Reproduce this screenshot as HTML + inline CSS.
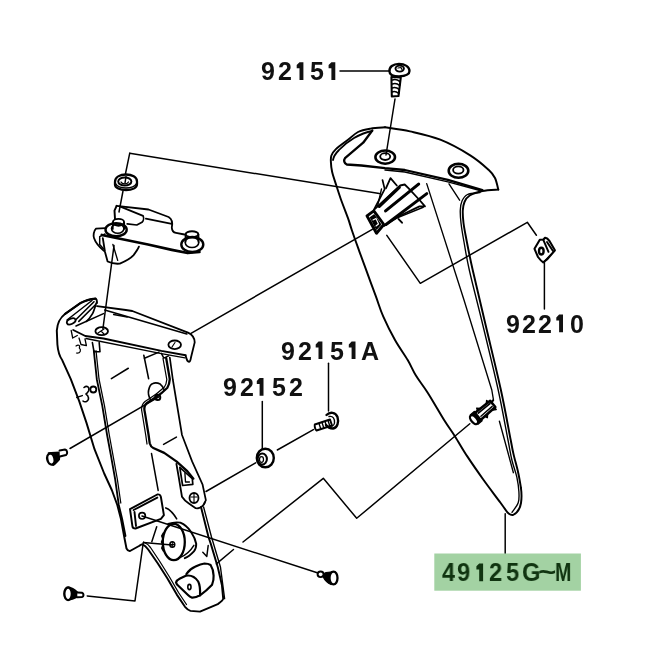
<!DOCTYPE html>
<html><head><meta charset="utf-8">
<style>
html,body{margin:0;padding:0;background:#fff;}
body{width:660px;height:660px;overflow:hidden;position:relative;}
svg{position:absolute;left:0;top:0;}
.lbl{position:absolute;-webkit-font-smoothing:antialiased;will-change:transform;font-family:"Liberation Sans",sans-serif;font-weight:bold;color:#111;white-space:nowrap;line-height:1;}
</style></head><body>
<svg width="660" height="660" viewBox="0 0 660 660">
<g fill="none" stroke="#000" stroke-linecap="round" stroke-linejoin="round">
<!-- ===== leader lines ===== -->
<g stroke-width="1.48">
<!-- 92151 label leader -->
<path d="M340,70.9 L389,70.9"/>
<!-- screw to hole -->
<path d="M395,99 L386,155"/>
<!-- top leader washer -> cowl clip -->
<path d="M129.7,153.3 L379.3,193.6"/>
<path d="M129.7,153.3 L125,176"/>
<path d="M123,191 L119,212"/>
<path d="M114,245.6 L102.9,328.8"/>
<!-- plate to clip -->
<path d="M191,333.4 L372.3,229.3"/>
<!-- nut leader -->
<path d="M386.8,235.4 L420.3,283.3 L527.3,222.3 L536.4,235.2"/>
<path d="M544.4,262 L544.4,309"/>
<!-- 92151A leader -->
<path d="M328.5,363.2 L328.5,411"/>
<!-- 92152 leader -->
<path d="M262.3,401.4 L262.3,448.5"/>
<path d="M277.3,450 L313.4,429.6"/>
<path d="M255.6,462.9 L206,491.5"/>
<!-- rivet1 leader -->
<path d="M70,448.5 L158.9,396.8"/>
<!-- rivet2 leader -->
<path d="M87.2,595.9 L135,600.9 L143.3,542.4 L172,545"/>
<!-- damper to rivet3 -->
<path d="M142,516 L318,573"/>
<!-- zigzag -->
<path d="M469.8,423.8 L356.7,518.3 L323.3,478.3 L243,542"/>
<path d="M233.5,549.5 L216.4,563.9"/>
<!-- cowl tip to label -->
<path d="M505.2,513.7 L505.2,553.5"/>
</g>

<!-- ===== Cowl 49125 ===== -->
<g stroke-width="1.94">
<path d="M385.0,127.3 C382.6,127.5 375.0,127.8 370.5,128.6 C366.0,129.4 361.8,130.1 358.0,132.0 C354.2,133.9 351.4,137.2 347.7,140.0 C344.0,142.8 338.6,146.5 335.9,149.1 C333.2,151.7 332.2,153.3 331.4,155.5 C330.6,157.7 330.8,159.4 330.9,162.1 C331.0,164.8 331.3,168.2 332.1,171.8 C332.9,175.4 334.4,179.5 335.8,183.9 C337.2,188.3 338.6,192.8 340.6,198.5 C342.6,204.2 346.0,212.7 347.9,217.9 C349.8,223.2 350.1,224.9 351.8,230.0 C353.5,235.1 355.9,241.8 358.2,248.2 C360.5,254.6 362.6,260.2 365.5,268.2 C368.4,276.2 372.9,288.4 375.9,296.4 C378.8,304.4 380.0,309.1 383.2,316.4 C386.4,323.7 390.9,332.7 395.0,340.0 C399.1,347.3 404.2,354.1 407.7,360.0 C411.2,365.9 412.6,370.1 415.9,375.5 C419.2,380.9 423.0,385.3 427.7,392.7 C432.4,400.1 439.6,412.7 444.1,420.0 C448.7,427.3 451.1,430.3 455.0,436.4 C458.9,442.5 462.5,449.1 467.3,456.4 C472.1,463.7 478.1,472.3 483.6,480.0 C489.1,487.7 496.6,497.4 500.5,502.8 C504.4,508.2 506.2,510.7 507.3,512.3 C509,514 511,515.5 513,515 C517,513 520,509 521,503 C521.8,498 521.5,492 520.9,487.7" />
<path d="M520.9,487.7 C520.5,485.2 519.5,478.4 518.2,472.7 C517.0,467.0 514.6,459.1 513.4,453.6 C512.1,448.2 512.8,450.6 510.7,440.0 C508.6,429.4 505.1,409.2 500.9,390.0 C496.7,370.8 490.2,344.5 485.5,324.5 C480.8,304.5 475.9,284.1 472.7,270.0 C469.5,255.9 468.0,247.8 466.5,240.0 C465.0,232.2 464.1,227.9 463.5,223.0 C462.9,218.1 462.6,213.8 462.8,210.3 C463.0,206.8 463.4,204.5 464.5,202.0 C465.6,199.5 466.7,197.3 469.7,195.5 C472.7,193.7 477.6,192.0 482.4,191.0 C487.2,190.0 495.6,189.8 498.3,189.6" />
<path d="M498.3,189.6 C497.8,187.7 496.6,181.3 495.0,178.0 C493.4,174.7 492.9,173.7 488.8,170.0 C484.7,166.3 478.7,160.7 470.6,155.6 C462.5,150.5 450.4,143.7 440.3,139.7 C430.2,135.7 419.2,133.5 410.0,131.4 C400.8,129.3 389.2,128.0 385.0,127.3" />
<path d="M372.3,131 C360,133 347,141.5 339,150 C335,154 333.5,157 333,160" stroke-width="1.82"/>
<path d="M372.3,130.5 L363.2,142.7 L345,158.2 C343.5,160.5 344,163 346.8,164.5 L361.4,165.5 L385,168.2 L404.8,170 L447.9,179.8 L482.4,190.1" stroke-width="2.28"/>
<path d="M385,170 L404.8,172 L447.9,181.8 L480,190.5" stroke-width="1.36"/>
<path d="M512.0,512.3 C513.0,510.7 517.1,506.2 518.2,502.8 C519.4,499.4 519.1,496.1 518.9,491.8 C518.7,487.5 517.9,482.0 516.8,476.8 C515.6,471.6 513.5,466.6 512.0,460.5 C510.5,454.4 510.3,451.8 508.0,440.0 C505.7,428.2 502.4,409.2 498.2,390.0 C494.0,370.8 487.5,344.5 482.7,324.5 C477.9,304.5 472.4,283.8 469.3,270.0 C466.2,256.2 465.4,249.8 464.0,242.0 C462.6,234.2 461.6,228.3 461.0,223.0 C460.4,217.7 460.1,213.7 460.3,210.0 C460.5,206.3 460.8,203.6 462.0,201.0 C463.2,198.4 464.5,195.9 467.5,194.5 C470.5,193.1 477.9,192.8 480.0,192.5" stroke-width="1.36"/>
<path d="M499.4,421.2 L513.4,472.7" stroke-width="1.36"/>
<path d="M426.7,183.6 L464,300 L491.8,390 L493.5,400" stroke-width="1.36"/>
<path d="M449,183.8 L459.6,200.2" stroke-width="1.36"/>
<ellipse cx="385.2" cy="157.1" rx="9.8" ry="6.6" stroke-width="2.55"/>
<ellipse cx="385.2" cy="156.6" rx="5" ry="3.4" stroke-width="1.82"/>
<ellipse cx="458.5" cy="170.8" rx="9.8" ry="7" stroke-width="2.55"/>
<ellipse cx="458.3" cy="170" rx="5.2" ry="3.6" stroke-width="1.82"/>
</g>

<!-- cowl clip -->
<g stroke-width="1.82">
<path d="M367,215.9 L373.8,210.9 L383.8,224.5 L376.5,233.2 Z" stroke-width="2.95"/>
<path d="M370.5,217.5 L374,215 L380.5,224.5 L376.5,229 Z" fill="#000" stroke-width="1.48"/>
<path d="M373,220 L376,218.5 L378.5,224 L376,226" stroke="#fff" stroke-width="1.14"/>
<path d="M374.7,209.1 L400.2,185.5 L404.7,184.5 L408.4,188.2 L419.5,200 L425,206.4 L419.5,206.4 L400.5,215.5 L384,226" stroke-width="1.82"/>
<path d="M379.3,206.4 L399.3,187.3" stroke-width="3.15"/>
<path d="M385.6,210.9 L418.6,184.1" stroke-width="3.15"/>
<path d="M386,224.5 L426.8,193.6" stroke-width="2.95"/>
<path d="M394.1,219.1 L423.2,207.3" stroke-width="1.48"/>
<path d="M386,188.2 L390.5,178.2 L396.8,185.5" stroke-width="1.82"/>
<path d="M373.8,210 L384.7,189.1 L382.5,180" stroke-width="1.71"/>
<path d="M377.5,206.4 L381.5,189" stroke-width="1.36"/>
<path d="M398.6,219.1 L402,222.7" stroke-width="1.94"/>
</g>

<!-- lower cowl clip -->
<g transform="translate(473.6,420) rotate(-40)">
<path d="M5,-4.5 L25,-4 L25,4 L5,4.5 Z" fill="#fff" stroke-width="2.55"/>
<path d="M8,1.8 L23,1.5" stroke-width="1.36"/>
<path d="M8,-2.2 L23,-2" stroke-width="1.71"/>
<path d="M1,-6 L6,-6 L6,6 L1,6 Z" fill="#000" stroke-width="1.48"/>
<ellipse cx="0.5" cy="0" rx="2.8" ry="5.3" fill="#fff" stroke-width="2.28"/>
<path d="M9,-4.5 L10,-7 L12.5,-4.5 M20,-4 L22.5,-6.5 L23,-4 M11,4.5 L12,7 L14.5,4.5 M20,4 L24,6.5 L24,4" fill="#000" stroke-width="1.48"/>
<path d="M25,-2 L27.5,-2.5" stroke-width="2.17"/>
</g>

<!-- screw 92151 -->
<g>
<path d="M389.5,71.5 C389,67 393,64 399,63.8 C405,63.8 409.5,67 409.5,71 C409.5,74 406,76 399,76.3 C393,76.3 389.5,75 389.5,71.5 Z" stroke-width="2.35" fill="#fff"/>
<ellipse cx="399.7" cy="68.6" rx="4.2" ry="3" stroke-width="1.94"/>
<path d="M398,68 L401,67.5 L402,69.5" stroke-width="1.25"/>
<path d="M391.4,77 L400.8,77.5 L398.5,96 L391.8,96.5 Z" stroke-width="2.05"/>
<path d="M392.5,80 C395,79 398,80 400,81.5 M392.3,84 C395,83 398,84 399.6,85.5 M392.1,88 C395,87 397.5,88 399.2,89.5 M392,92 C394.5,91 397,92 398.8,93.5" stroke-width="1.59"/>
</g>

<!-- nut 92210 -->
<g stroke-width="2.05">
<path d="M534.5,248.8 L539.8,239.7 L543.5,239.5 L545,237.8 L547.2,238.5 L549.5,241 L554.9,250.3 L547,259.5 L543.2,262.4 C541,261 539.5,259 538,257 Z"/>
<ellipse cx="541.3" cy="251.1" rx="2.3" ry="3.4" stroke-width="2.40"/>
<path d="M543.2,239.7 L548.5,251.8 M547,242 L553,251" stroke-width="1.94"/>
<path d="M543.9,261.7 L554.5,251" stroke-width="1.48"/>
</g>

<!-- 92151A screw -->
<g>
<path d="M326.5,415 C330,411.5 335.5,412 337.5,417 C339,422 337.5,428 333,428.5 C330,428.5 327.5,427 326,425" stroke-width="2.40"/>
<path d="M329,416.5 C333,415.5 335,419 334.5,423 C334,426 331.5,426.5 329.5,425.5" stroke-width="1.36"/>
<path d="M314.8,424.5 L330,419.5 L332,425.5 L316.5,430.5 C315,429.5 314.5,426 314.8,424.5 Z" stroke-width="1.94"/>
<path d="M319,423.5 L320.8,429 M322,422.5 L323.8,428 M325,421.5 L326.8,427 M328,420.5 L329.8,426" stroke-width="1.36"/>
</g>

<!-- 92152 washer -->
<g>
<ellipse cx="265.3" cy="458" rx="8.5" ry="9.3" stroke-width="2.40"/>
<ellipse cx="262.3" cy="459" rx="4.6" ry="5.6" stroke-width="2.05"/>
<ellipse cx="261.5" cy="459.5" rx="2" ry="2.8" stroke-width="1.25"/>
</g>

<!-- top washer -->
<g>
<path d="M115,182 C115,177 120,174.5 126,174.5 C132,174.5 137,177 137,181.5 L137,184 C137,188 132,190 126,190 C120,190 115,188 115,184.5 Z" stroke-width="2.28" fill="#fff"/>
<path d="M115.5,183.5 C117,186.5 121,188 126,188 C131,188 135,186.5 136.5,183.5" stroke-width="1.48"/>
<ellipse cx="124.8" cy="181.5" rx="6.6" ry="4" stroke-width="1.94"/>
<path d="M126,176.5 L125,183" stroke-width="1.48"/>
<path d="M121,182 C122,184.5 127,184.5 128.5,182" stroke-width="1.25"/>
</g>

<!-- small bracket with studs -->
<g stroke-width="1.71">
<!-- plate lower thick edge -->
<path d="M101.8,235 L148,244.5 L171.8,249.8 L187.7,253 L199.4,252" stroke-width="2.75"/>
<!-- upper profile -->
<path d="M116.6,205.8 L148.5,209.5 L168.6,217 C172,219 173,222 171.8,227.6 C172,231 174,232.5 176,232.9 L184.5,234.5" stroke-width="1.82"/>
<path d="M145.8,218.6 L171.8,223.9" stroke-width="1.59"/>
<!-- inner tab -->
<path d="M116.6,205.8 L114.5,210.6 L115,219" stroke-width="1.94"/>
<path d="M119.8,206.4 L143.1,215.9 C144,218 143.5,221 142,222.3 L136.8,225 L127.2,223.9" stroke-width="1.71"/>
<!-- left hook -->
<path d="M105.5,228.1 L96,228.6 C93.5,231 93.2,236 94,238 C95,241 98,246 103.9,250.9" stroke-width="1.82"/>
<path d="M105,234 L99.7,236.6 L99.7,244.5 L103.4,248.8" stroke-width="1.48"/>
<!-- lower tab -->
<path d="M102.8,238.2 L105,252 L107.6,261.5 C112,263.5 116,264 119.8,263.6 C126,261 131,258 133.6,255.1 C136,252 138,249 138.9,246.7" stroke-width="1.82"/>
<path d="M112.9,244.5 L117.7,260.4" stroke-width="1.36"/>
<!-- studs -->
<ellipse cx="116.1" cy="229.7" rx="10.6" ry="6.6" stroke-width="2.40"/>
<ellipse cx="117.7" cy="228.6" rx="6.2" ry="4.6" stroke-width="1.59"/>
<path d="M112.8,222.5 L112.8,229 M124.2,222.5 L124.2,229" stroke-width="1.71"/>
<ellipse cx="118.5" cy="222.3" rx="5.6" ry="3.4" stroke-width="1.94"/>
<ellipse cx="192.3" cy="244.5" rx="11" ry="7.5" stroke-width="2.40"/>
<ellipse cx="192" cy="242.5" rx="6.8" ry="5" stroke-width="1.59"/>
<path d="M185.5,234.5 L185.5,242 M198.5,234.5 L198.5,242" stroke-width="1.71"/>
<ellipse cx="192" cy="234.3" rx="6.3" ry="3" stroke-width="1.94"/>
</g>

<!-- ===== main bracket ===== -->
<g stroke-width="1.71">
<!-- plate top edge + right end -->
<path d="M97,306.2 L125.8,310 L132.3,311 L188,332.7 C192,334.5 194.5,337 194.7,342.4 L191.1,357 C190.6,360 189.8,361.8 189,361.8 C187.5,361.5 186.8,360 186.5,358.5 L185.6,355.5" stroke-width="1.82"/>
<!-- plate front edge (double) -->
<path d="M73.2,330 L85.3,336 L103.5,338.5 L161.4,350.9 L185.6,355.2" stroke-width="1.94"/>
<path d="M86,338.5 L161.4,353.6 L185,357.8" stroke-width="1.36"/>
<!-- bend line -->
<path d="M76,326 L103.5,313.6 M104.7,310 L186.8,334" stroke-width="1.59"/>
<path d="M113.6,314.5 L127.3,317" stroke-width="1.36"/>
<ellipse cx="101.7" cy="331.2" rx="6.3" ry="4" stroke-width="1.82"/>
<path d="M98,333 L104,329 M101,331 L104,334" stroke-width="1.14"/>
<ellipse cx="174.7" cy="344.8" rx="6.3" ry="4.3" stroke-width="1.82"/>
<path d="M172,347 L175,342.5" stroke-width="1.14"/>
<!-- curl -->
<path d="M75.8,319.8 L94,301.7 M78.8,321.4 L95.5,304.7" stroke-width="1.59"/>
<path d="M96.2,303.2 C95,307 94,311 92.4,313.8 C90.5,317 88.5,319.5 86.4,321.4" stroke-width="1.71"/>
<ellipse cx="71.2" cy="321.4" rx="4.6" ry="2.6" transform="rotate(-25 71.2 321.4)" stroke-width="1.82"/>
<path d="M67,320 L92,300.5" stroke-width="1.48"/>
<path d="M65.2,313.8 L80.3,303.2 C85,300.5 90,299 95.5,298.6" stroke-width="2.1"/>
<!-- outer left edge, bottom, right edge -->
<path d="M97,303 C97,300 96.5,298.8 95.5,298.6 C90,299 85,300.5 80.3,303.2 L65.2,313.8 C60,318 57.5,322 56.8,330.5 L57.4,344.5 C58,352 60,357 62.3,360.3 L70.8,379.2 L79.2,401.1 L86.5,422.9 L94.5,449.2 L104.2,473.5 L111.8,490 L117.3,505 L120.9,518.8 L124.5,538.2 L126.5,548.5 C127.5,550.5 128.5,551.2 130,551 L139,546 C140.5,545 141.5,544.3 142.5,544.3 C144.5,545 146.5,547 148.2,549.5 L157.7,563.2 L167.3,578.2 L176.8,594.6 L185,606.8 C187,609 189,610.5 190.5,610.9 L200,611.6 L217.8,604.1 C221,602 223,600 223.2,598.7 L221.9,585 L217.8,567.3 L210.9,544.1 L208.5,537 L201,507" stroke-width="1.94"/>
<path d="M143.5,542 C146,543 148.5,545 150.5,547.5 L159.5,561 L169.5,577 L178.5,592.5 L186.5,604.5" stroke-width="1.25"/>
<path d="M203.6,507 L211.5,537 L220.5,567.3 L224.6,598.7" stroke-width="1.36"/>
<!-- inner left line (double) -->
<path d="M93.8,350.6 L96.8,379.2 L102.3,405.9 L107.1,435 L110.9,455.3 L115.2,479.5 L118.8,505 L122.1,518.8 L125.5,536" stroke-width="1.82"/>
<path d="M96,350.6 L99,379 L104.5,405.9 L109.3,435 L113,455.3 L117.4,479.5 L120.8,503" stroke-width="1.25"/>
<!-- right strand B -->
<path d="M169.8,357.5 L172.9,380 L182,435 L192.1,461.4 L202.5,484.3 L205.9,500.2 L204.2,503.6" stroke-width="1.71"/>
<!-- post wire strand -->
<path d="M166.2,358.2 L169.8,379.2 C169.5,383 168.5,386 167.4,387.7 C163,392 160,394.5 156.5,396.8 L147,403 C144.5,405 144.2,408 144.4,410 L145,413.2 L148.6,435 L149.7,443.2 C150.5,446 151.5,447.2 153.3,448 L164.2,452.9 L176.4,461.4 L187.3,471.1 L193.4,478.6" stroke-width="2.28"/>
<path d="M163,358.5 L166.8,379.5 C166.5,383 165.5,385.5 164.4,387 C160,391 157,393.5 154,395.5 L145,401.5 C142,404 141.5,407 141.6,410 L142.2,413.5 L145.8,435.5 L147,444" stroke-width="1.25"/>
<!-- loop + grommet -->
<path d="M150.5,399.8 C148.5,396 148,393 148.6,390.2 C149.5,386 151,384 152.9,383.5 C155,382.5 158,383 160.2,384.1 C162,385.5 163.5,388 164.4,390.2" stroke-width="1.71"/>
<circle cx="157.7" cy="397.4" r="2.6" stroke-width="1.94"/>
<!-- slot -->
<path d="M176.4,463.9 L178.6,476.4 L182,496.8 C184,500 186.5,502 188.9,503.6 L195.7,508.2 C198,508.5 200,508 201.4,507 C203.5,505.5 204.5,504 204.8,502.5" stroke-width="1.82"/>
<path d="M179.8,467.3 L182.6,485.5 L192.8,484.3 L192.3,478.6 Z" stroke-width="1.71"/>
<path d="M184.9,473 L185.5,482 L189.4,482" stroke-width="1.36"/>
<ellipse cx="194" cy="498" rx="4.5" ry="5" stroke-width="1.82"/>
<path d="M191,497 L197,497 M194,494 L194,502" stroke-width="1.14"/>
<!-- misc under plate -->
<path d="M143.8,355.2 L148.6,378.6" stroke-width="1.59"/>
<path d="M144.4,358.2 L159,352.1" stroke-width="1.48"/>
<path d="M161.4,353.3 L163.8,358.2 L168.6,355.8" stroke-width="1.48"/>
<path d="M92.4,342.6 L94,351.7 L100,351.7 L99.2,342.6" stroke-width="1.59"/>
<path d="M71.2,330.5 L72.7,338 L77.3,335.5 M79,338 L81,344.5 L86.4,345.6 L85,339" stroke-width="1.3"/>
<path d="M76,346 C78,344.5 80.5,345 79.3,348 C81.5,350 80.5,353.5 76.5,353" stroke-width="1.2"/>
<path d="M111.4,378.6 L128.3,368.3" stroke-width="1.59"/>
<path d="M163.6,444.4 L176.4,437.1" stroke-width="1.59"/>
<path d="M151.5,453.5 L158.2,490.5" stroke-width="1.48"/>
<path d="M156.7,526.7 L151.8,541.8" stroke-width="1.48"/>
<path d="M76.8,397.4 L82.3,395.6" stroke-width="1.48"/>
<path d="M84,387.5 C87,385 90,387 88.5,391 C87.5,393 86,394 86,394 C89,396 89.5,400 86.5,401.5 C85,402 83.5,401.5 83,401" stroke-width="1.59"/>
<circle cx="93.3" cy="389.5" r="3" stroke-width="1.82"/>
<!-- pad -->
<path d="M130,509.1 L157.3,494.5 C159,494 160.5,495 160.9,497 L163.9,515.2 L160.9,518.8 L135.5,528.5 C133.5,528.5 132.5,527.5 132.4,526.1 Z" stroke-width="1.94"/>
<path d="M133.6,510 L157.3,497.6 M134.5,512 L136,526" stroke-width="1.94"/>
<circle cx="142.1" cy="515.8" r="3.2" stroke-width="1.71"/>
<!-- damper 1 -->
<path d="M168.2,524 C172,522.5 176,522 180.3,522.6 C185,524.5 188.5,528 190.9,531.7 C193.5,535.5 195.5,540 196.2,543.8 C196.3,547 195.5,549.5 193.9,551.4 C191,554.5 188,557 184.8,558.2" stroke-width="1.94"/>
<ellipse cx="173.8" cy="542" rx="11" ry="18.2" stroke-width="2.28"/>
<path d="M163.5,533 L161.8,536 L163,539 L161.5,542 L163,545 L161.8,548 L163.5,551" stroke-width="1.59"/>
<ellipse cx="172.3" cy="544.5" rx="2.4" ry="2.8" stroke-width="1.59"/>
<path d="M172.3,542 L172.3,547 M170,544.5 L174.6,544.5" stroke-width="1.02"/>
<path d="M180.3,557.4 C186,555 191,550 193.9,545.3" stroke-width="1.48"/>
<path d="M165.8,507.9 C169,509 172,511 176.7,518.8" stroke-width="1.59"/>
<path d="M202.8,552.3 L206.8,556.4 L208.2,545.5" stroke-width="1.48"/>
<!-- damper 2 -->
<path d="M186.4,574 C189,570 192,568 195.5,566.5 C198.5,565 201.5,563.8 204.5,563.5 C207,563.5 209,564 210.6,565 C212.5,568 213.5,572 213.6,575.6 C213.8,579 213.2,582 212.1,584.7 C208,589 204,592.5 200,595.3" stroke-width="2.17"/>
<path d="M176,582.5 C176.5,580.5 178,579.5 180,578.5 L186.4,575.6 C191,575 195.5,577.5 198.2,581.5 C200,585 200.3,590 200,595.3 C197.5,596.8 194.5,597.8 191.7,597.6 C190,597 189,596 188,595 L177,584.5 Z" stroke-width="2.17" fill="#fff"/>
<ellipse cx="189.4" cy="587" rx="1.6" ry="2.6" stroke-width="1.59"/>
</g>

<!-- rivets -->
<g>
<path d="M48.5,453 C52,452.5 56,452.5 59.6,452.2 L59.3,459.5 C57,462 55,464.5 53,465.3 Z" fill="#000" stroke-width="1.48"/>
<path d="M59.6,450.5 L65,449.5 C67.5,450 67.8,454 66,455 L59.8,456.5" fill="#fff" stroke-width="2.05"/>
<ellipse cx="50.9" cy="459.1" rx="3.6" ry="5.6" transform="rotate(-12 50.9 459.1)" stroke-width="2.40" fill="#fff"/>
<path d="M68,587.4 C71,587.8 74.5,589.5 77.1,592 L77.1,597 C74,598.5 71,599.5 68,600 Z" fill="#000" stroke-width="1.71"/>
<path d="M77.3,592.5 L82,592.8 C84,593.5 84,596.5 82,597 L77.3,597.3" fill="#fff" stroke-width="2.05"/>
<ellipse cx="68.1" cy="593.8" rx="3.8" ry="6.3" stroke-width="2.40" fill="#fff"/>
<path d="M333,571.8 L326,572.5 C323.5,573.5 323,576 323.5,577.5 C325,580.5 327.5,583 331,584.5 Z" fill="#000" stroke-width="1.25"/>
<ellipse cx="320.6" cy="574.3" rx="3" ry="2.8" stroke-width="1.94" fill="#fff"/>
<ellipse cx="333.5" cy="578" rx="4" ry="6.4" stroke-width="2.28" fill="#fff"/>
</g>
</g>
<!-- label box -->
<rect x="434.3" y="553.5" width="146.6" height="37.2" fill="#a3d2a3"/>
<path d="M296.7,65.0 L299.5,62.2 L303.4,62.2 L303.4,80.0 L299.5,80.0 L299.5,68.2 L296.7,68.2 Z" fill="#111"/>
<path d="M328.6,65.0 L331.4,62.2 L335.3,62.2 L335.3,80.0 L331.4,80.0 L331.4,68.2 L328.6,68.2 Z" fill="#111"/>
<path d="M315.7,344.4 L318.5,341.6 L322.4,341.6 L322.4,359.0 L318.5,359.0 L318.5,347.6 L315.7,347.6 Z" fill="#111"/>
<path d="M348.8,344.4 L351.6,341.6 L355.5,341.6 L355.5,359.0 L351.6,359.0 L351.6,347.6 L348.8,347.6 Z" fill="#111"/>
<path d="M256.8,380.9 L259.6,378.1 L263.5,378.1 L263.5,395.8 L259.6,395.8 L259.6,384.1 L256.8,384.1 Z" fill="#111"/>
<path d="M556.3,317.4 L559.1,314.6 L563.0,314.6 L563.0,332.3 L559.1,332.3 L559.1,320.6 L556.3,320.6 Z" fill="#111"/>
<path d="M476.4,566.2 L479.2,563.4 L483.1,563.4 L483.1,581.2 L479.2,581.2 L479.2,569.4 L476.4,569.4 Z" fill="#103410"/>
</svg>
<div class="lbl" style="left:261.2px;top:59.2px;font-size:25px;color:#111;">9</div>
<div class="lbl" style="left:277.9px;top:59.2px;font-size:25px;color:#111;">2</div>
<div class="lbl" style="left:310.3px;top:59.2px;font-size:25px;color:#111;">5</div>
<div class="lbl" style="left:281.1px;top:338.6px;font-size:25px;color:#111;">9</div>
<div class="lbl" style="left:297.9px;top:338.6px;font-size:25px;color:#111;">2</div>
<div class="lbl" style="left:329.9px;top:338.6px;font-size:25px;color:#111;">5</div>
<div class="lbl" style="left:361.3px;top:338.6px;font-size:25px;color:#111;">A</div>
<div class="lbl" style="left:223.1px;top:375.1px;font-size:25px;color:#111;">9</div>
<div class="lbl" style="left:240.2px;top:375.1px;font-size:25px;color:#111;">2</div>
<div class="lbl" style="left:271.6px;top:375.1px;font-size:25px;color:#111;">5</div>
<div class="lbl" style="left:288.6px;top:375.1px;font-size:25px;color:#111;">2</div>
<div class="lbl" style="left:505.8px;top:311.6px;font-size:25px;color:#111;">9</div>
<div class="lbl" style="left:521.5px;top:311.6px;font-size:25px;color:#111;">2</div>
<div class="lbl" style="left:537.9px;top:311.6px;font-size:25px;color:#111;">2</div>
<div class="lbl" style="left:569.6px;top:311.6px;font-size:25px;color:#111;">0</div>
<div class="lbl" style="left:441.5px;top:560.4px;font-size:25px;color:#103410;transform:scaleX(0.95);transform-origin:0 0;">4</div>
<div class="lbl" style="left:456.9px;top:560.4px;font-size:25px;color:#103410;transform:scaleX(0.95);transform-origin:0 0;">9</div>
<div class="lbl" style="left:489.0px;top:560.4px;font-size:25px;color:#103410;transform:scaleX(0.95);transform-origin:0 0;">2</div>
<div class="lbl" style="left:505.8px;top:560.4px;font-size:25px;color:#103410;transform:scaleX(0.95);transform-origin:0 0;">5</div>
<div class="lbl" style="left:522.2px;top:560.4px;font-size:25px;color:#103410;transform:scaleX(0.95);transform-origin:0 0;">G</div>
<div class="lbl" style="left:538px;top:560.4px;font-size:25px;color:#103410;transform:scaleX(1.25);transform-origin:0 0;">~</div>
<div class="lbl" style="left:554.5px;top:560.4px;font-size:25px;color:#103410;transform:scaleX(0.78);transform-origin:0 0;">M</div>
</body></html>
